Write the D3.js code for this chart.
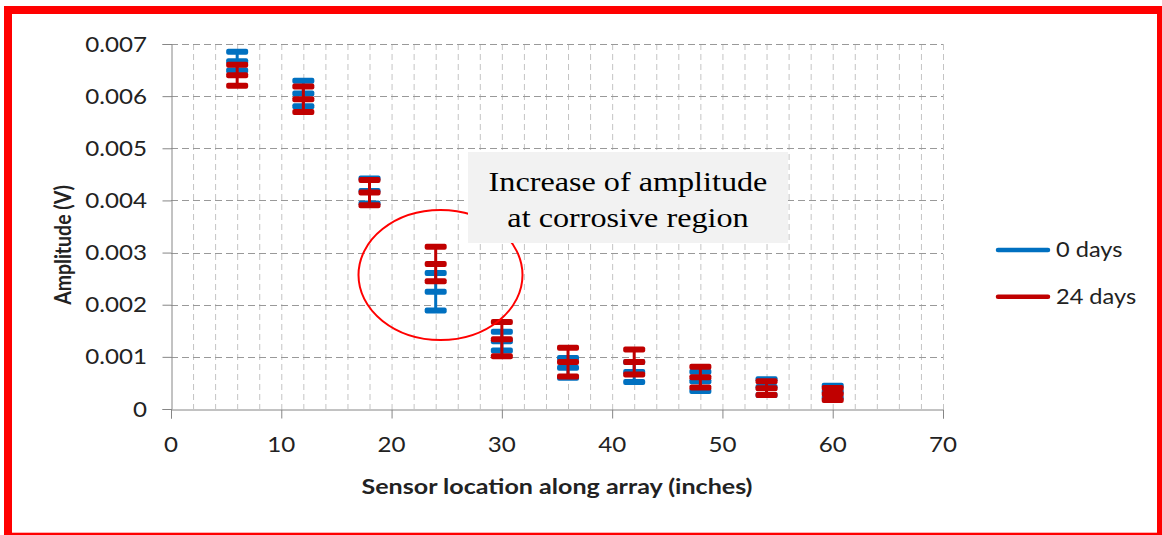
<!DOCTYPE html>
<html><head><meta charset="utf-8">
<script src="https://cdn.jsdelivr.net/npm/d3@7/dist/d3.min.js"></script>
<style>body{margin:0;background:#fff}svg{display:block}</style>
</head><body>
<svg id="c" width="1162" height="535"></svg>
<script>
const sensorX = [6,12,18,24,30,36,42,48,54,60];
const mean0 = [0.00667,0.00605,0.00418,0.00225,0.00130,0.00079,0.00071,0.00053,0.00042,0.00033];
const err0 = [0.00018,0.000245,0.00024,0.00036,0.00018,0.00019,0.00019,0.000185,0.00015,0.000115];
const mean24 = [0.00640,0.00594,0.00415,0.00278,0.00134,0.00090,0.00090,0.00061,0.00040,0.00029];
const err24 = [0.00020,0.000245,0.000243,0.00033,0.00033,0.000275,0.00024,0.00020,0.00013,0.000115];
const xTicks = [0,10,20,30,40,50,60,70];
const yTicks = [0,0.001,0.002,0.003,0.004,0.005,0.006,0.007];
const yTickLabels = ["0","0.001","0.002","0.003","0.004","0.005","0.006","0.007"];
const seriesNames = ["0 days","24 days"];
const colors = ["#0070c0","#c00000"];
const annotation = ["Increase of amplitude","at corrosive region"];

const SX = 1.15;
const svg = d3.select("#c");
const x = d3.scaleLinear().domain([0,70]).range([171,943]);
const y = d3.scaleLinear().domain([0,0.007]).range([409,44]);

// frame
svg.append("rect").attr("x",8).attr("y",10).attr("width",1153).attr("height",526.7)
  .attr("fill","none").attr("stroke","#ff0000").attr("stroke-width",8);

// vertical minor grid
const vg = d3.range(2,71,2);
svg.append("g").selectAll("line").data(vg).join("line")
  .attr("x1",d=>x(d)+0.5).attr("x2",d=>x(d)+0.5).attr("y1",y(0.007)).attr("y2",y(0))
  .attr("stroke","#c4c4c4").attr("stroke-width",1).attr("stroke-dasharray","6,4");
// horizontal grid
svg.append("g").selectAll("line").data(yTicks.slice(1)).join("line")
  .attr("x1",x(0)).attr("x2",x(70)).attr("y1",d=>Math.round(y(d))+0.5).attr("y2",d=>Math.round(y(d))+0.5)
  .attr("stroke","#999999").attr("stroke-width",1).attr("stroke-dasharray","7,4");

// axes
const yAxis = d3.axisLeft(y).tickValues(yTicks).tickSize(9).tickFormat("");
const gy = svg.append("g").attr("transform",`translate(${x(0)+0.5},0)`).call(yAxis);
const xAxis = d3.axisBottom(x).tickValues(xTicks).tickSize(9).tickFormat("");
const gx = svg.append("g").attr("transform",`translate(0,${y(0)+0.5})`).call(xAxis);
[gy,gx].forEach(g=>{g.select(".domain").attr("stroke","#868686");g.selectAll(".tick line").attr("stroke","#868686");});

// tick labels
svg.append("g").selectAll("text").data(yTicks).join("text")
  .attr("transform",(d)=>`translate(147,${y(d)+7.5}) scale(${SX},1)`)
  .attr("text-anchor","end").attr("font-family","Lato").attr("font-size",21).attr("fill","#222")
  .text((d,i)=>yTickLabels[i]);
svg.append("g").selectAll("text").data(xTicks).join("text")
  .attr("transform",d=>`translate(${x(d)},452) scale(${SX},1)`)
  .attr("text-anchor","middle").attr("font-family","Lato").attr("font-size",21).attr("fill","#222")
  .text(d=>d);

// axis titles
svg.append("text").attr("transform",`translate(557,494) scale(${SX},1)`)
  .attr("text-anchor","middle").attr("font-family","Lato").attr("font-weight","bold").attr("font-size",21.8).attr("fill","#222")
  .text("Sensor location along array (inches)");
svg.append("text").attr("transform",`translate(71,245) rotate(-90) scale(1,${SX})`)
  .attr("text-anchor","middle").attr("font-family","Lato").attr("font-weight","bold").attr("font-size",19.5).attr("fill","#222")
  .text("Amplitude (V)");

// error bars
const series = [{m:mean0,e:err0,c:colors[0]},{m:mean24,e:err24,c:colors[1]}];
const capW = 22, capH = 6;
series.forEach(s=>{
  const g = svg.append("g");
  const pts = sensorX.map((xv,i)=>({x:xv,m:s.m[i],e:s.e[i]}));
  g.selectAll("line.v").data(pts).join("line")
    .attr("x1",d=>x(d.x)).attr("x2",d=>x(d.x)).attr("y1",d=>y(d.m+d.e)).attr("y2",d=>y(d.m-d.e))
    .attr("stroke",s.c).attr("stroke-width",3);
  const bars = [];
  pts.forEach(d=>{bars.push({x:d.x,v:d.m+d.e});bars.push({x:d.x,v:d.m});bars.push({x:d.x,v:d.m-d.e});});
  g.selectAll("rect").data(bars).join("rect")
    .attr("x",d=>x(d.x)-capW/2).attr("y",d=>y(d.v)-capH/2).attr("width",capW).attr("height",capH)
    .attr("rx",2).attr("fill",s.c);
});

// ellipse
svg.append("ellipse").attr("cx",440.5).attr("cy",275).attr("rx",82).attr("ry",65)
  .attr("fill","none").attr("stroke","#ff0000").attr("stroke-width",2);

// annotation box
svg.append("rect").attr("x",468).attr("y",152).attr("width",320).attr("height",91).attr("fill","#f2f2f2");
svg.append("g").selectAll("text").data(annotation).join("text")
  .attr("transform",(d,i)=>`translate(628,${190.5+i*36}) scale(${SX},1)`)
  .attr("text-anchor","middle").attr("font-family","Liberation Serif").attr("font-size",28).attr("fill","#000")
  .text(d=>d);

// legend
const lg = svg.append("g").selectAll("g").data(seriesNames).join("g")
  .attr("transform",(d,i)=>`translate(0,${250+i*46.7})`);
lg.append("line").attr("x1",998).attr("x2",1048).attr("y1",0).attr("y2",0)
  .attr("stroke",(d,i)=>colors[i]).attr("stroke-width",4.5).attr("stroke-linecap","round");
lg.append("text").attr("transform",`translate(1056,7) scale(${SX},1)`)
  .attr("font-family","Lato").attr("font-size",20.5).attr("fill","#222").text(d=>d);
</script>
</body></html>
